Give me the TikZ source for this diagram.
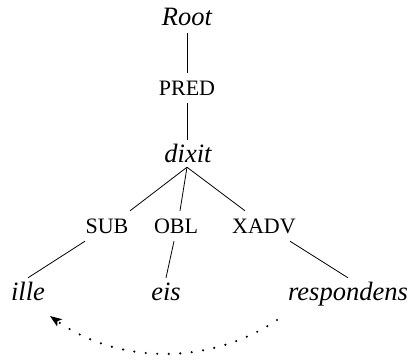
\documentclass[tikz,border=0pt]{standalone}
\usepackage{fontspec}
\setmainfont{Liberation Serif}
\usetikzlibrary{arrows.meta}
\begin{document}
\begin{tikzpicture}[x=1pt,y=-1pt,
  word/.style={font=\fontsize{26.5}{30}\selectfont\itshape, anchor=base,
    text height=15pt, text depth=1pt, inner xsep=0pt, inner ysep=7pt},
  fn/.style={font=\fontsize{22}{26}\selectfont, anchor=base,
    text height=15pt, text depth=1pt, inner xsep=0pt, inner ysep=7pt},
  edge/.style={line width=0.8pt},
  link/.style={line width=2.4pt, line cap=round, dash pattern=on 0pt off 11.5pt,
    -{Stealth[length=12pt,width=9pt,inset=3pt,line width=0pt]}}]
  \useasboundingbox (0,0) rectangle (410,362);

  % tree nodes
  \node[word] (root) at (187,25) {Root};
  \node[fn] (pred) at (187,95) {PRED};
  \node[word] (dixit) at (188,162) {dixit};
  \node[fn] (sub) at (107,233) {SUB};
  \node[fn] (obl) at (176,233) {OBL};
  \node[fn] (xadv) at (264,233) {XADV};
  \node[word] (ille) at (28,300) {ille};
  \node[word] (eis) at (166,300) {eis};
  \node[word] (resp) at (348,300) {respondens};

  % branches
  \draw[edge] (root.south) -- (pred.north);
  \draw[edge] (pred.south) -- (dixit.north -| pred.south);
  \draw[edge] ([xshift=-1pt,yshift=3pt]dixit.south) -- ([xshift=23pt]sub.north);
  \draw[edge] ([xshift=-1pt,yshift=3pt]dixit.south) -- ([xshift=4pt]obl.north);
  \draw[edge] ([xshift=-1pt,yshift=3pt]dixit.south) -- ([xshift=-19pt]xadv.north);
  \draw[edge] ([xshift=-22pt]sub.south) -- (ille.north);
  \draw[edge] ([xshift=-2pt]obl.south) -- (eis.north);
  \draw[edge] ([xshift=26pt]xadv.south) -- (resp.north);

  % dotted arrow from respondens back to ille
  \coordinate (from) at (277,320);
  \coordinate (to) at (50,316);
  \draw[link] (from) .. controls (209,366) and (118,364) .. (to);
\end{tikzpicture}
\end{document}
